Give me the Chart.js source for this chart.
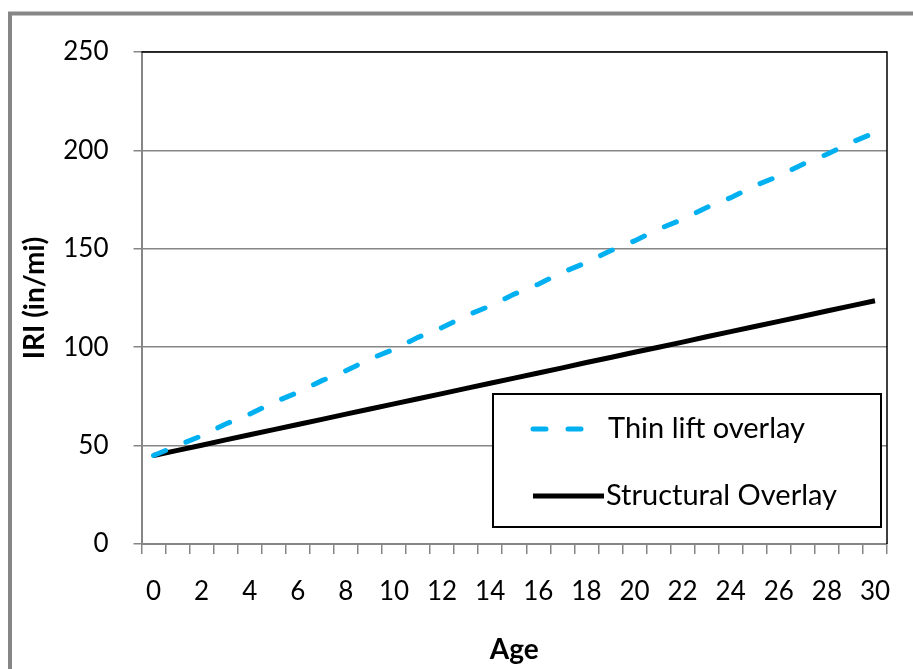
<!DOCTYPE html>
<html>
<head>
<meta charset="utf-8">
<script src="https://cdn.jsdelivr.net/npm/chart.js@4/dist/chart.umd.min.js"></script>
<style>
  html, body { margin: 0; padding: 0; background: #fff; }
  #wrap { width: 913px; height: 669px; position: relative; }
</style>
</head>
<body>
<div id="wrap"><canvas id="iriChart" width="913" height="669"></canvas></div>
<script>
// Age categories (years) and IRI values
const ages = ['0','1','2','3','4','5','6','7','8','9','10','11','12','13','14','15',
  '16','17','18','19','20','21','22','23','24','25','26','27','28','29','30'];
const thinLift = [45, 50, 55, 61, 66, 72, 77, 83, 88, 94, 99, 105, 110, 116, 121, 127,
  132, 138, 143, 149, 154, 160, 165, 171, 176, 182, 187, 193, 198, 204, 209];
const structural = [45, 47.6, 50.2, 52.9, 55.5, 58.1, 60.7, 63.3, 66, 68.6, 71.2, 73.8, 76.4, 79.1, 81.7, 84.3,
  86.9, 89.5, 92.2, 94.8, 97.4, 100, 102.6, 105.3, 107.9, 110.5, 113.1, 115.7, 118.4, 121, 123.6];
const yTicks = [0, 50, 100, 150, 200, 250];

const FONT = 'Lato, "Open Sans", sans-serif';
const GREY = '#868686';

// outer frame, plot border on top/right, and the boxed legend inside the plot
const framePlugin = {
  id: 'frame',
  afterDraw(chart) {
    const c = chart.ctx;
    const a = chart.chartArea;
    c.save();
    c.strokeStyle = GREY;
    c.lineWidth = 4;
    c.beginPath();
    c.moveTo(10, 700);
    c.lineTo(10, 13.5);
    c.lineTo(920, 13.5);
    c.stroke();

    c.strokeStyle = '#000';
    c.lineWidth = 1.5;
    c.beginPath();
    c.moveTo(a.left, a.top);
    c.lineTo(a.right, a.top);
    c.lineTo(a.right, a.bottom);
    c.stroke();

    // legend box
    c.fillStyle = '#fff';
    c.fillRect(493, 394, 388, 133);
    c.lineWidth = 2;
    c.strokeRect(493, 394, 388, 133);

    const rows = [{ ds: chart.data.datasets[0], y: 429, x0: 533, x1: 590, tx: 608 },
                  { ds: chart.data.datasets[1], y: 496, x0: 533, x1: 604, tx: 606 }];
    rows.forEach(r => {
      c.strokeStyle = r.ds.borderColor;
      c.lineWidth = r.ds.borderWidth;
      c.lineCap = r.ds.borderCapStyle || 'butt';
      c.setLineDash(r.ds.borderDash || []);
      c.beginPath();
      c.moveTo(r.x0, r.y);
      c.lineTo(r.x1, r.y);
      c.stroke();
      c.setLineDash([]);
      c.fillStyle = '#000';
      c.font = '29px ' + FONT;
      c.textBaseline = 'middle';
      c.textAlign = 'left';
      c.fillText(r.ds.label, r.tx, r.y);
    });
    c.restore();
  }
};

const ctx = document.getElementById('iriChart').getContext('2d');
new Chart(ctx, {
  type: 'line',
  data: {
    labels: ages,
    datasets: [{
      label: 'Thin lift overlay',
      data: thinLift,
      borderColor: '#00B0F0',
      borderWidth: 5,
      borderDash: [13, 22],
      borderCapStyle: 'round',
      pointRadius: 0,
      tension: 0,
      fill: false
    }, {
      label: 'Structural Overlay',
      data: structural,
      borderColor: '#000000',
      borderWidth: 5,
      pointRadius: 0,
      tension: 0,
      fill: false
    }]
  },
  options: {
    responsive: false,
    animation: false,
    devicePixelRatio: 1,
    layout: { padding: { left: 12, top: 52, right: 26, bottom: 0 } },
    plugins: { legend: { display: false }, tooltip: { enabled: false } },
    scales: {
      x: {
        offset: true,
        grid: { offset: true, drawOnChartArea: false, drawTicks: true, tickLength: 10, color: GREY, lineWidth: 1.5 },
        border: { color: GREY, width: 2 },
        ticks: {
          autoSkip: false, maxRotation: 0, padding: 22, color: '#000',
          font: { family: FONT, size: 26 },
          callback: (v, i) => (i % 2 === 0 ? ages[i] : '')
        },
        title: {
          display: true, text: 'Age', color: '#000',
          font: { family: FONT, size: 28, weight: 'bold' },
          padding: { top: 2, bottom: 2 }
        },
        afterFit: s => { s.height = 125; }
      },
      y: {
        min: 0,
        max: 250,
        afterBuildTicks: s => { s.ticks = yTicks.map(v => ({ value: v })); },
        grid: { color: GREY, lineWidth: 1.5, tickLength: 8 },
        border: { color: GREY, width: 2 },
        ticks: { padding: 25, color: '#000', font: { family: FONT, size: 26 } },
        title: {
          display: true, text: 'IRI (in/mi)', color: '#000',
          font: { family: FONT, size: 28, weight: 'bold' },
          padding: { top: 6, bottom: 0 }
        },
        afterFit: s => { s.width = 129.5; }
      }
    }
  },
  plugins: [framePlugin]
});
</script>
</body>
</html>
